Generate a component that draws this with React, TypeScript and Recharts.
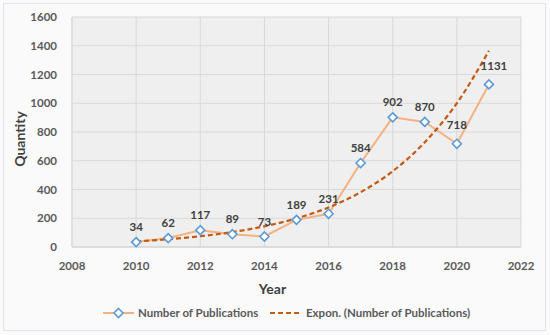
import React from "react";
import { LineChart, Line, XAxis, YAxis, CartesianGrid, LabelList } from "recharts";

const years = [2010, 2011, 2012, 2013, 2014, 2015, 2016, 2017, 2018, 2019, 2020, 2021];
const publications = [34, 62, 117, 89, 73, 189, 231, 584, 902, 870, 718, 1131];
const trend = [39, 54, 75, 104, 144, 199, 275, 381, 527, 729, 1000, 1365];
const xTicks = [2008, 2010, 2012, 2014, 2016, 2018, 2020, 2022];
const yTicks = [0, 200, 400, 600, 800, 1000, 1200, 1400, 1600];

const data = years.map((y, i) => ({ year: y, pubs: publications[i], trend: trend[i] }));

const FONT = "Lato, 'Noto Sans', sans-serif";

const Diamond = (props: any) => {
  const { cx, cy } = props;
  if (cx == null || cy == null) return null;
  const r = 4.5;
  return (
    <path
      d={`M${cx},${cy - r}L${cx + r},${cy}L${cx},${cy + r}L${cx - r},${cy}Z`}
      fill="#ffffff"
      stroke="#5B9BD5"
      strokeWidth={1.6}
    />
  );
};

const ValueLabel = (props: any) => {
  const { x, y, value, index } = props;
  const last = index === publications.length - 1;
  const dx = last ? 5 : 0;
  const dy = last ? -3 : index === 10 ? -4 : 0;
  return (
    <text
      x={x + dx}
      y={y - 11 + dy}
      textAnchor="middle"
      fill="#404040"
      fontSize={11.5}
      fontWeight={700}
      fontFamily={FONT}
    >
      {value}
    </text>
  );
};

export default function App() {
  return (
    <div
      style={{
        position: "absolute",
        left: 0,
        top: 0,
        width: 550,
        height: 335,
        background: "#fafafa",
        fontFamily: FONT,
      }}
    >
      <div
        style={{
          position: "absolute",
          left: 3,
          top: 3,
          width: 541,
          height: 326,
          border: "1px solid #dfe5ec",
        }}
      />
      <LineChart
        width={550}
        height={335}
        data={data}
        margin={{ top: 17, right: 29, left: 0, bottom: 0 }}
        style={{ position: "absolute", left: 0, top: 0 }}
      >
        <CartesianGrid stroke="#d9d9d9" fill="#efefef" />
        <XAxis
          dataKey="year"
          type="number"
          domain={[2008, 2022]}
          ticks={xTicks}
          height={88}
          tickLine={false}
          axisLine={{ stroke: "#d0d0d0" }}
          tickMargin={9}
          tick={{ fill: "#595959", fontSize: 11.5, fontWeight: 700, fontFamily: FONT }}
          label={{
            value: "Year",
            position: "insideTop",
            offset: 37,
            dx: -24,
            fill: "#404040",
            fontSize: 14,
            fontWeight: 700,
            fontFamily: FONT,
          }}
        />
        <YAxis
          type="number"
          domain={[0, 1600]}
          ticks={yTicks}
          width={72}
          tickLine={false}
          axisLine={{ stroke: "#d9d9d9" }}
          tickMargin={9}
          tick={{ fill: "#595959", fontSize: 11.5, fontWeight: 700, fontFamily: FONT }}
          label={{
            value: "Quantity",
            angle: -90,
            position: "insideLeft",
            offset: 20,
            dy: 7,
            fill: "#404040",
            fontSize: 14,
            fontWeight: 700,
            fontFamily: FONT,
            style: { textAnchor: "middle" },
          }}
        />
        <Line
          dataKey="pubs"
          stroke="#F4B183"
          strokeWidth={2}
          dot={<Diamond />}
          activeDot={false}
          isAnimationActive={false}
        >
          <LabelList dataKey="pubs" content={<ValueLabel />} />
        </Line>
        <Line
          dataKey="trend"
          type="monotone"
          stroke="#C55A11"
          strokeWidth={2.2}
          strokeDasharray="5 3"
          dot={false}
          activeDot={false}
          isAnimationActive={false}
        />
      </LineChart>
      <svg
        width={550}
        height={30}
        style={{ position: "absolute", left: 0, top: 299 }}
      >
        <line x1={103} y1={14} x2={134} y2={14} stroke="#F4B183" strokeWidth={2} />
        <Diamond cx={118.5} cy={14} />
        <text x={138} y={18} fill="#595959" fontSize={11.5} fontWeight={700} fontFamily={FONT}>
          Number of Publications
        </text>
        <line x1={270} y1={14} x2={300} y2={14} stroke="#C55A11" strokeWidth={2.2} strokeDasharray="5 3" />
        <text x={306} y={18} fill="#595959" fontSize={11.5} fontWeight={700} fontFamily={FONT}>
          Expon. (Number of Publications)
        </text>
      </svg>
    </div>
  );
}
